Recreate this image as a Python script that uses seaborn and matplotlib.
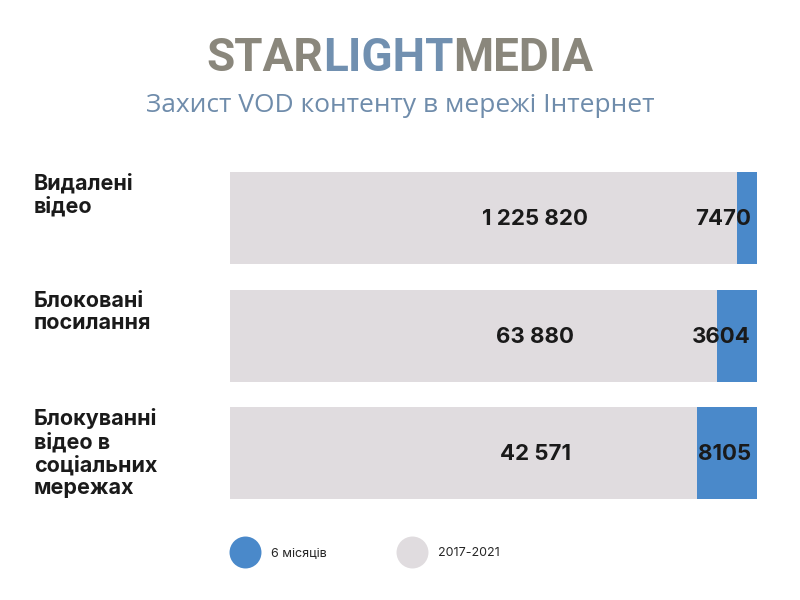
import numpy as np
import pandas as pd
import matplotlib
matplotlib.use("Agg")
import matplotlib.pyplot as plt
import matplotlib.transforms as mtransforms
from matplotlib.lines import Line2D
import seaborn as sns

categories = ["Видалені\nвідео", "Блоковані\nпосилання", "Блокуванні\nвідео в\nсоціальних\nмережах"]
total_labels = ["1 225 820", "63 880", "42 571"]
recent_labels = ["7470", "3604", "8105"]
# share of the bar taken by the blue "6 months" segment, as drawn (%)
recent_share = [3.85, 7.65, 11.4]
legend_labels = ["6 місяців", "2017-2021"]
title = "Захист VOD контенту в мережі Інтернет"

grey = "#e0dcdf"
blue = "#4a89ca"
logo_grey = "#8a877c"
logo_blue = "#7190b0"

sns.set_theme(style="white")
plt.rcParams['font.family'] = ['Inter', 'DejaVu Sans']

df = pd.DataFrame({
    "category": categories,
    "full": [100.0] * len(categories),
    "old": [100.0 - s for s in recent_share],
})

fig = plt.figure(figsize=(8, 6), dpi=100)
fig.patch.set_facecolor("white")
ax = fig.add_axes([230 / 800, 101 / 600, 527 / 800, 327 / 600])

bar_w = 92 / 117.5
sns.barplot(data=df, y="category", x="full", color=blue, width=bar_w,
            orient="h", ax=ax, saturation=1, edgecolor="none", linewidth=0)
sns.barplot(data=df, y="category", x="old", color=grey, width=bar_w,
            orient="h", ax=ax, saturation=1, edgecolor="none", linewidth=0)

ax.set_xlim(0, 100)
ax.set_ylim(2 + bar_w / 2, -bar_w / 2)
ax.set_xlabel("")
ax.set_ylabel("")
ax.set_xticks([])
ax.set_yticks([])
sns.despine(ax=ax, left=True, bottom=True)

blend = mtransforms.blended_transform_factory(ax.transAxes, ax.transData)
for i, cat in enumerate(categories):
    ax.text(-0.372, i - bar_w / 2 + 0.01, cat, transform=blend, ha="left", va="top",
            fontsize=15.5, fontweight="bold", color="#1a1a1a", linespacing=1.15)
    ax.text(0.579, i + 0.01, total_labels[i], transform=blend, ha="center", va="center",
            fontsize=16, fontweight="bold", color="#1a1a1a")
    ax.text(0.988, i + 0.01, recent_labels[i], transform=blend, ha="right", va="center",
            fontsize=16, fontweight="bold", color="#1a1a1a")

# legend
handles = [Line2D([], [], marker="o", linestyle="none", markersize=23,
                  markerfacecolor=blue, markeredgecolor="none"),
           Line2D([], [], marker="o", linestyle="none", markersize=23,
                  markerfacecolor=grey, markeredgecolor="none")]
fig.legend(handles, legend_labels, loc="center left",
           bbox_to_anchor=(235 / 800, 47 / 600), ncol=2, frameon=False,
           fontsize=9, handlelength=1.6, handletextpad=1.3,
           columnspacing=6.0, borderpad=0, borderaxespad=0)

# subtitle
fig.text(0.5, 1 - 106 / 600, title, ha="center", va="center",
         fontsize=19, color="#6f8cab", family=["Open Sans", "DejaVu Sans"])

# logo made of three coloured pieces
parts = [("STAR", logo_grey), ("LIGHT", logo_blue), ("MEDIA", logo_grey)]
renderer = fig.canvas.get_renderer()
texts = []
widths = []
for word, col in parts:
    t = fig.text(0, 1 - 58 / 600, word, ha="left", va="center", fontsize=33,
                 fontweight="bold", color=col, family=["Roboto", "DejaVu Sans"])
    bb = t.get_window_extent(renderer)
    texts.append(t)
    widths.append(bb.width)
x0 = 400 - sum(widths) / 2
for t, w in zip(texts, widths):
    t.set_x(x0 / 800)
    x0 += w

fig.savefig("out.png", dpi=100, facecolor="white")
